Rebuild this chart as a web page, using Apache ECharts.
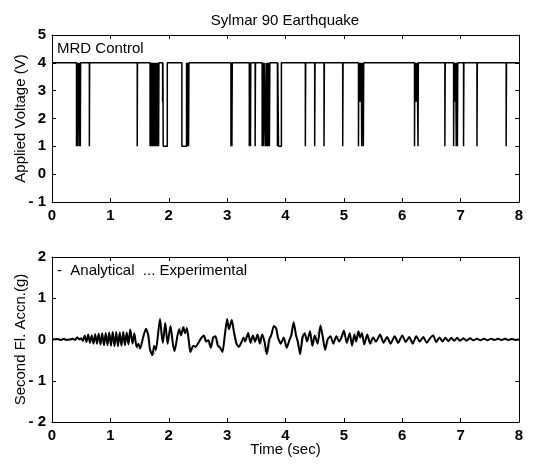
<!DOCTYPE html>
<html>
<head>
<meta charset="utf-8">
<script src="https://cdn.jsdelivr.net/npm/echarts@6/dist/echarts.min.js"></script>
<style>
  html, body { margin: 0; padding: 0; background: #fff; }
  #main { width: 551px; height: 466px; }
</style>
</head>
<body>
<div id="main"></div>
<script>
"use strict";
// tick labels
var timeTicks = [0, 1, 2, 3, 4, 5, 6, 7, 8];
var voltTicks = [-1, 0, 1, 2, 3, 4, 5];
var accTicks = [-2, -1, 0, 1, 2];

// MRD control: voltage sits at 4 V and drops in short pulses
var highVolt = 4;
var pulseStart = [0.420, 0.440, 0.455, 0.470, 0.485, 0.640, 1.460,
    1.680, 1.692, 1.704, 1.716, 1.730, 1.744, 1.758, 1.772, 1.786, 1.800, 1.814, 1.826,
    1.895, 1.905, 2.225, 2.325, 2.340, 3.065, 3.082, 3.380, 3.400, 3.480,
    3.600, 3.615, 3.628, 3.660, 3.676, 3.692, 3.708, 3.724, 3.862, 3.880,
    4.340, 4.500, 4.660, 4.980,
    5.250, 5.264, 5.278, 5.292, 5.306, 5.320, 5.334,
    6.210, 6.232, 6.250, 6.270, 6.730, 6.880, 6.895, 6.910, 6.925, 6.945,
    7.050, 7.280, 7.780];
var pulseEnd = [0.425, 0.446, 0.458, 0.476, 0.490, 0.645, 1.464,
    1.686, 1.698, 1.710, 1.724, 1.738, 1.752, 1.766, 1.780, 1.794, 1.808, 1.822, 1.832,
    1.900, 1.975, 2.305, 2.332, 2.346, 3.070, 3.088, 3.386, 3.405, 3.486,
    3.606, 3.620, 3.634, 3.668, 3.684, 3.700, 3.716, 3.732, 3.868, 3.930,
    4.346, 4.506, 4.666, 4.986,
    5.256, 5.270, 5.284, 5.298, 5.312, 5.326, 5.340,
    6.216, 6.238, 6.256, 6.276, 6.736, 6.886, 6.900, 6.916, 6.931, 6.951,
    7.056, 7.286, 7.786];
var pulseLow = [1, 1, 2.5, 1, 1, 1, 1,
    1, 1, 1, 1, 1, 1, 1, 1, 1, 1, 1, 1,
    2.6, 1, 1, 1, 1, 1, 1, 1, 1, 1,
    1, 1, 1, 1, 1, 1, 1, 1, 1, 1,
    1, 1, 1, 1,
    1, 2.6, 2.6, 2.6, 1, 2.6, 1,
    1, 2.6, 2.6, 1, 1, 1, 2.6, 2.6, 1, 1,
    1, 1, 1];

// second floor acceleration, analytical (peaks and troughs)
var anaTime = [0.00, 0.10, 0.15, 0.20, 0.25, 0.30, 0.35, 0.40, 0.43, 0.47, 0.50, 0.53,
    0.56, 0.59, 0.62, 0.65, 0.68, 0.71, 0.74, 0.77, 0.80, 0.83, 0.86, 0.89, 0.92, 0.95,
    0.98, 1.01, 1.04, 1.07, 1.10, 1.13, 1.16, 1.19, 1.22, 1.25, 1.28, 1.31, 1.34, 1.38,
    1.41, 1.45, 1.48, 1.51, 1.56, 1.61, 1.65, 1.68, 1.72, 1.75, 1.78, 1.85, 1.88, 1.90,
    1.94, 1.98, 2.03, 2.07, 2.10, 2.15, 2.18, 2.21, 2.25, 2.28, 2.31, 2.35, 2.37, 2.42,
    2.46, 2.50, 2.55, 2.60, 2.64, 2.68, 2.72, 2.76, 2.80, 2.84, 2.88, 2.92, 2.96, 3.00,
    3.03, 3.08, 3.12, 3.16, 3.20, 3.25, 3.28, 3.31, 3.36, 3.40, 3.44, 3.48, 3.52, 3.56,
    3.60, 3.64, 3.68, 3.72, 3.76, 3.80, 3.84, 3.87, 3.92, 3.97, 4.02, 4.07, 4.10, 4.14,
    4.18, 4.21, 4.25, 4.29, 4.33, 4.37, 4.42, 4.46, 4.50, 4.55, 4.60, 4.64, 4.68, 4.72,
    4.77, 4.82, 4.87, 4.92, 4.96, 5.00, 5.05, 5.10, 5.14, 5.18, 5.21, 5.25, 5.28, 5.31,
    5.35, 5.40, 5.45, 5.50, 5.55, 5.62, 5.68, 5.74, 5.80, 5.87, 5.93, 6.00, 6.06, 6.12,
    6.18, 6.24, 6.30, 6.36, 6.42, 6.48, 6.53, 6.58, 6.64, 6.69, 6.74, 6.79, 6.84, 6.89,
    6.94, 6.99, 7.05, 7.10, 7.16, 7.22, 7.28, 7.34, 7.40, 7.46, 7.52, 7.58, 7.64, 7.70,
    7.76, 7.82, 7.88, 7.94, 8.00];
var anaValue = [0.00, 0.01, -0.01, 0.01, -0.01, 0.00, 0.02, -0.01, 0.05, 0.00, 0.03, -0.03,
    0.10, -0.06, 0.12, -0.08, 0.10, -0.10, 0.13, -0.10, 0.14, -0.12, 0.15, -0.14, 0.16, -0.14,
    0.17, -0.15, 0.18, -0.16, 0.18, -0.16, 0.17, -0.15, 0.18, -0.14, 0.17, -0.12, 0.24, -0.10,
    0.15, -0.18, -0.10, -0.22, 0.05, 0.26, 0.10, -0.25, -0.38, -0.15, -0.25, 0.50, 0.10, -0.08,
    0.40, -0.10, 0.33, -0.10, -0.28, 0.10, 0.25, 0.10, 0.30, 0.15, 0.28, -0.10, -0.30, -0.15,
    -0.18, -0.10, 0.02, 0.10, -0.05, -0.02, -0.20, 0.05, 0.08, -0.15, -0.20, -0.30, 0.10, 0.50,
    0.25, 0.47, 0.15, -0.10, -0.18, -0.05, 0.05, -0.05, 0.16, -0.08, 0.10, -0.05, 0.12, -0.10,
    0.12, -0.05, -0.35, 0.00, 0.12, 0.33, 0.27, 0.05, -0.10, 0.05, -0.20, 0.00, 0.10, 0.42,
    0.10, -0.05, -0.35, 0.05, 0.15, -0.05, 0.20, -0.15, 0.10, -0.10, 0.34, 0.05, -0.25, 0.00,
    0.08, -0.10, 0.08, -0.05, 0.05, 0.22, -0.08, 0.15, -0.15, 0.12, -0.05, 0.20, 0.05, 0.15,
    -0.12, 0.12, -0.10, 0.05, -0.05, 0.12, -0.08, 0.06, -0.10, 0.08, -0.08, 0.10, -0.06, 0.06,
    -0.10, 0.08, -0.05, 0.06, -0.08, 0.04, 0.10, -0.06, 0.05, -0.05, 0.04, -0.04, 0.04, -0.03,
    0.04, -0.03, 0.03, -0.03, 0.03, -0.02, 0.02, -0.02, 0.02, -0.02, 0.02, -0.01, 0.02, -0.01,
    0.02, -0.01, 0.01, -0.01, 0.00];

// experimental (dotted, mostly hidden under the analytical curve)
var expTime = [0.00, 0.12, 0.22, 0.32, 0.43, 0.53, 0.56, 0.59, 0.62, 0.65, 0.68, 0.71, 0.74,
    0.77, 0.80, 0.83, 0.86, 0.89, 0.92, 0.95, 0.98, 1.01, 1.04, 1.07, 1.10, 1.13, 1.16,
    1.19, 1.22, 1.25, 1.28, 1.31, 1.34, 1.38, 1.41, 1.45, 1.51, 1.61, 1.68, 1.72, 1.78,
    1.85, 1.90, 1.94, 1.98, 2.03, 2.10, 2.18, 2.25, 2.31, 2.37, 2.46, 2.60, 2.72, 2.80,
    2.92, 3.00, 3.03, 3.08, 3.20, 3.36, 3.40, 3.48, 3.52, 3.68, 3.80, 3.84, 3.92, 3.97,
    4.02, 4.14, 4.25, 4.33, 4.37, 4.42, 4.46, 4.60, 4.68, 4.77, 4.82, 4.87, 4.96, 5.00,
    5.05, 5.10, 5.14, 5.18, 5.25, 5.31, 5.35, 5.40, 5.47, 5.55, 5.62, 5.68, 5.74, 5.80,
    5.87, 5.93, 6.00, 6.06, 6.12, 6.18, 6.24, 6.30, 6.36, 6.42, 6.53, 6.58, 6.64, 6.69,
    6.74, 6.79, 6.84, 6.89, 6.94, 6.99, 7.05, 7.10, 7.16, 7.22, 7.28, 7.34, 7.40, 7.46,
    7.52, 7.58, 7.64, 7.70, 7.76, 7.82, 7.88, 7.94, 8.00];
var expValue = [0.02, -0.02, 0.03, -0.02, 0.06, -0.04, 0.11, -0.07, 0.13, -0.09, 0.11, -0.11, 0.14,
    -0.11, 0.15, -0.13, 0.16, -0.15, 0.17, -0.15, 0.18, -0.16, 0.19, -0.17, 0.19, -0.17, 0.18,
    -0.16, 0.19, -0.15, 0.18, -0.13, 0.25, -0.11, 0.16, -0.20, -0.23, 0.27, -0.26, -0.40, -0.26,
    0.48, -0.09, 0.41, -0.12, 0.34, -0.30, 0.26, 0.31, 0.29, -0.32, -0.19, 0.11, -0.21, 0.09,
    -0.32, 0.48, 0.26, 0.45, -0.20, 0.15, -0.09, -0.06, 0.13, -0.37, 0.31, 0.28, -0.12, 0.06,
    -0.21, 0.40, -0.37, 0.16, -0.06, 0.19, -0.16, 0.32, -0.27, 0.09, -0.11, 0.09, 0.06, 0.20,
    -0.09, 0.16, -0.16, 0.13, 0.19, 0.16, -0.13, 0.13, -0.10, -0.04, 0.13, -0.09, 0.07, -0.11,
    0.09, -0.09, 0.10, -0.07, 0.07, -0.11, 0.09, -0.06, 0.07, -0.09, 0.11, -0.07, 0.06, -0.06,
    0.05, -0.05, 0.05, -0.04, 0.05, -0.04, 0.04, -0.04, 0.04, -0.03, 0.04, -0.03, 0.04, -0.03,
    0.04, -0.03, 0.04, -0.03, 0.04, -0.02, 0.03, -0.02, 0.02];

// build the step curve for the voltage from the pulse lists
var voltData = [[0, highVolt]];
for (let i = 0; i < pulseStart.length; i++) {
    voltData.push([pulseStart[i], highVolt]);
    voltData.push([pulseStart[i], pulseLow[i]]);
    voltData.push([pulseEnd[i], pulseLow[i]]);
    voltData.push([pulseEnd[i], highVolt]);
}
voltData.push([8, highVolt]);

var anaData = anaTime.map((t, i) => [t, anaValue[i]]);
var expData = expTime.map((t, i) => [t, expValue[i]]);

var FONT = "Liberation Sans";
var tickStyle = { show: true, inside: true, length: 4, lineStyle: { color: '#000', width: 1 } };
var lineStyle = { show: true, onZero: false, lineStyle: { color: '#000', width: 1 } };
var plainText = { color: '#000', fontFamily: FONT, fontSize: 15, fontWeight: 'normal' };

function negFmt(v) {
    return v < 0 ? '- ' + Math.abs(v) : String(v);
}

function xAxes(gridIndex, withName) {
    return [
        {
            type: 'value', gridIndex: gridIndex, min: timeTicks[0], max: timeTicks[timeTicks.length - 1], interval: 1,
            axisLine: lineStyle, axisTick: tickStyle, splitLine: { show: false },
            axisLabel: { color: '#000', fontFamily: FONT, fontSize: 15, fontWeight: 'bold', margin: 6 },
            name: withName ? 'Time (sec)' : '', nameLocation: 'middle', nameGap: 20, nameMoveOverlap: false,
            nameTextStyle: plainText
        },
        {
            type: 'value', gridIndex: gridIndex, position: 'top', min: timeTicks[0], max: timeTicks[timeTicks.length - 1], interval: 1,
            axisLine: lineStyle, axisTick: tickStyle, axisLabel: { show: false }, splitLine: { show: false }
        }
    ];
}

function yAxes(gridIndex, ticks, name) {
    return [
        {
            type: 'value', gridIndex: gridIndex, min: ticks[0], max: ticks[ticks.length - 1], interval: 1,
            axisLine: lineStyle, axisTick: tickStyle, splitLine: { show: false },
            axisLabel: { color: '#000', fontFamily: FONT, fontSize: 15, fontWeight: 'bold', margin: 6, formatter: negFmt },
            name: name, nameLocation: 'middle', nameGap: 24, nameRotate: 90, nameMoveOverlap: false,
            nameTextStyle: plainText
        },
        {
            type: 'value', gridIndex: gridIndex, position: 'right', min: ticks[0], max: ticks[ticks.length - 1], interval: 1,
            axisLine: lineStyle, axisTick: tickStyle, axisLabel: { show: false }, splitLine: { show: false }
        }
    ];
}

var myChart = echarts.init(document.getElementById('main'), null, { renderer: 'canvas' });
myChart.setOption({
    animation: false,
    backgroundColor: '#fff',
    title: [
        { text: 'Sylmar 90 Earthquake', left: 285, top: 13, textAlign: 'center', padding: 0, textStyle: plainText },
        { text: 'MRD Control', left: 57, top: 41, padding: 0, textStyle: plainText },
        { text: '-  Analytical  ... Experimental', left: 57, top: 263, padding: 0, textStyle: plainText }
    ],
    grid: [
        { left: 52, top: 35, width: 467, height: 167, outerBoundsMode: 'none' },
        { left: 52, top: 257, width: 467, height: 165, outerBoundsMode: 'none' }
    ],
    xAxis: xAxes(0, false).concat(xAxes(1, true)),
    yAxis: yAxes(0, voltTicks, 'Applied Voltage (V)').concat(yAxes(1, accTicks, 'Second Fl. Accn.(g)')),
    series: [
        {
            type: 'line', name: 'MRD Control', xAxisIndex: 0, yAxisIndex: 0, data: voltData,
            showSymbol: false, lineStyle: { color: '#000', width: 1.5 }
        },
        {
            type: 'line', name: 'Experimental', xAxisIndex: 2, yAxisIndex: 2, data: expData,
            showSymbol: false, smooth: 0.2, lineStyle: { color: '#777', width: 1, type: 'dotted' }
        },
        {
            type: 'line', name: 'Analytical', xAxisIndex: 2, yAxisIndex: 2, data: anaData,
            showSymbol: false, smooth: 0.2, lineStyle: { color: '#000', width: 2 }
        }
    ]
});
</script>
</body>
</html>
